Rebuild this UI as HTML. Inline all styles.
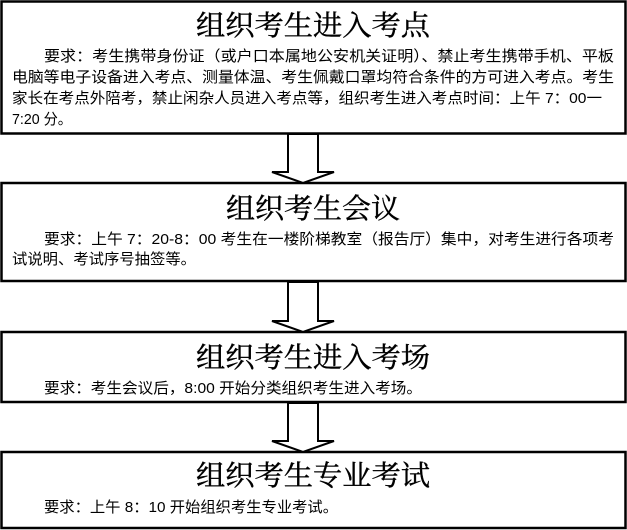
<!DOCTYPE html>
<html><head><meta charset="utf-8"><style>
html,body{margin:0;padding:0;background:#fff;}
svg{display:block;}
.t{font-family:"Liberation Serif","Noto Serif CJK SC",serif;font-size:28px;font-weight:normal;fill:#000;stroke:#000;stroke-width:0.4;}
.b{font-family:"Liberation Sans","Noto Sans CJK SC",sans-serif;font-size:15px;fill:#000;}
</style></head><body>
<svg width="627" height="530" xmlns="http://www.w3.org/2000/svg">
<g fill="#fff" stroke="#000" stroke-width="2.5">
<rect x="1.5" y="1.5" width="624" height="132"/>
<rect x="1.5" y="183" width="624" height="98"/>
<rect x="1.5" y="332" width="624" height="70"/>
<rect x="1.5" y="452" width="624" height="76"/>
</g>
<g fill="#fff" stroke="#000" stroke-width="2">
<path d="M288,134 L318,134 L318,172 L334,172 L303,183 L272,172 L288,172 Z"/>
<path d="M288,282 L318,282 L318,321 L334,321 L303,332 L272,321 L288,321 Z"/>
<path d="M288,403 L318,403 L318,441 L334,441 L303,452 L272,441 L288,441 Z"/>
</g>
<text class="t" x="196" y="35" textLength="234" lengthAdjust="spacingAndGlyphs">组织考生进入考点</text>
<text class="b" x="44" y="61" textLength="570" lengthAdjust="spacingAndGlyphs">要求：考生携带身份证（或户口本属地公安机关证明）、禁止考生携带手机、平板</text>
<text class="b" x="12" y="82" textLength="602" lengthAdjust="spacingAndGlyphs">电脑等电子设备进入考点、测量体温、考生佩戴口罩均符合条件的方可进入考点。考生</text>
<text class="b" x="12" y="103" textLength="590" lengthAdjust="spacingAndGlyphs">家长在考点外陪考，禁止闲杂人员进入考点等，组织考生进入考点时间：上午 7：00一</text>
<text class="b" x="12" y="124" textLength="60" lengthAdjust="spacingAndGlyphs">7:20 分。</text>

<text class="t" x="226" y="218" textLength="174" lengthAdjust="spacingAndGlyphs">组织考生会议</text>
<text class="b" x="44" y="244" textLength="570" lengthAdjust="spacingAndGlyphs">要求：上午 7：20-8：00 考生在一楼阶梯教室（报告厅）集中，对考生进行各项考</text>
<text class="b" x="12" y="264" textLength="184" lengthAdjust="spacingAndGlyphs">试说明、考试序号抽签等。</text>

<text class="t" x="196" y="367" textLength="234" lengthAdjust="spacingAndGlyphs">组织考生进入考场</text>
<text class="b" x="44" y="393" textLength="378" lengthAdjust="spacingAndGlyphs">要求：考生会议后，8:00 开始分类组织考生进入考场。</text>

<text class="t" x="196" y="485" textLength="234" lengthAdjust="spacingAndGlyphs">组织考生专业考试</text>
<text class="b" x="44" y="512" textLength="294" lengthAdjust="spacingAndGlyphs">要求：上午 8：10 开始组织考生专业考试。</text>
</svg>
</body></html>
